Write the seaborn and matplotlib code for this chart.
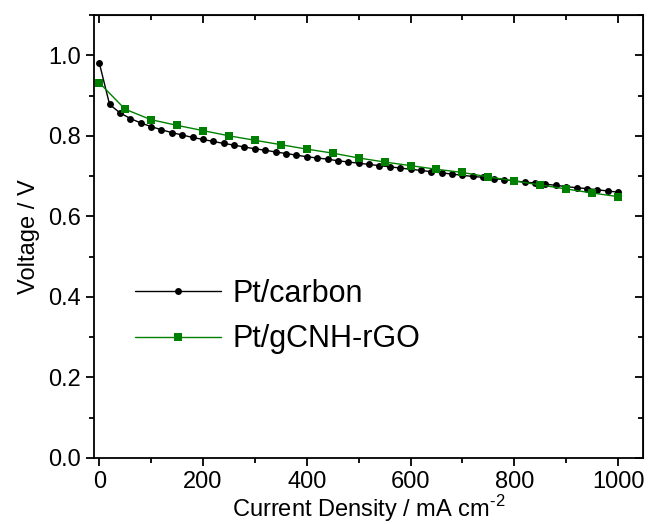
import numpy as np
import pandas as pd
import matplotlib
matplotlib.use('Agg')
import matplotlib.pyplot as plt
import seaborn as sns
from matplotlib.ticker import MultipleLocator

# ── data ─────────────────────────────────────────────────
carbon_j = [0, 20, 40, 60, 80, 100, 120, 140, 160, 180, 200, 220, 240, 260, 280,
            300, 320, 340, 360, 380, 400, 420, 440, 460, 480, 500, 520, 540, 560,
            580, 600, 620, 640, 660, 680, 700, 720, 740, 760, 780, 800, 820, 840,
            860, 880, 900, 920, 940, 960, 980, 1000]
carbon_v = [0.982, 0.878, 0.857, 0.843, 0.832, 0.823, 0.815, 0.808, 0.802, 0.796,
            0.791, 0.786, 0.781, 0.777, 0.772, 0.768, 0.764, 0.760, 0.756, 0.752,
            0.748, 0.745, 0.742, 0.738, 0.735, 0.732, 0.729, 0.726, 0.723, 0.720,
            0.717, 0.714, 0.711, 0.708, 0.705, 0.702, 0.699, 0.697, 0.694, 0.691,
            0.688, 0.685, 0.683, 0.680, 0.677, 0.674, 0.671, 0.669, 0.666, 0.663,
            0.660]

gcnh_j = [0, 50, 100, 150, 200, 250, 300, 350, 400, 450, 500, 550, 600, 650, 700,
          750, 800, 850, 900, 950, 1000]
gcnh_v = [0.932, 0.866, 0.840, 0.826, 0.813, 0.800, 0.789, 0.778, 0.767, 0.757,
          0.745, 0.735, 0.726, 0.717, 0.709, 0.698, 0.688, 0.678, 0.668, 0.658,
          0.649]

labels = ['Pt/carbon', 'Pt/gCNH-rGO']

df_c = pd.DataFrame({'j': carbon_j, 'v': carbon_v})
df_g = pd.DataFrame({'j': gcnh_j, 'v': gcnh_v})

# ── style ────────────────────────────────────────────────
sns.set_style('ticks')
plt.rcParams['font.family'] = ['Liberation Sans', 'DejaVu Sans']
plt.rcParams['mathtext.fontset'] = 'custom'
plt.rcParams['mathtext.rm'] = 'Liberation Sans'
for k in ['text.color', 'axes.labelcolor', 'xtick.color', 'ytick.color']:
    plt.rcParams[k] = 'black'

fig = plt.figure(figsize=(6.48, 5.24), dpi=100)
ax = fig.add_axes([94 / 648, 1 - 458 / 524, 549 / 648, 443 / 524])

sns.lineplot(data=df_c, x='j', y='v', ax=ax, color='black', lw=1.0,
             marker='o', markersize=5, markeredgewidth=0, label=labels[0])
sns.lineplot(data=df_g, x='j', y='v', ax=ax, color='#008000', lw=1.0,
             marker='s', markersize=5.8, markeredgewidth=0, label=labels[1])

ax.set_xlim(-10, 1048)
ax.set_ylim(0, 1.1)
ax.xaxis.set_major_locator(MultipleLocator(200))
ax.xaxis.set_minor_locator(MultipleLocator(100))
ax.yaxis.set_major_locator(MultipleLocator(0.2))
ax.yaxis.set_minor_locator(MultipleLocator(0.1))
ax.yaxis.set_major_formatter(matplotlib.ticker.FormatStrFormatter('%.1f'))

for s in ax.spines.values():
    s.set_linewidth(1.3)
    s.set_color('black')
ax.tick_params(which='major', direction='out', length=6, width=1.3,
               labelsize=17, colors='black')
ax.tick_params(which='minor', direction='out', length=3.5, width=1.3, colors='black')

# top / right ticks pointing inward, no labels
top = ax.secondary_xaxis('top')
top.xaxis.set_major_locator(MultipleLocator(200))
top.xaxis.set_minor_locator(MultipleLocator(100))
top.tick_params(which='major', direction='in', length=6, width=1.3, labeltop=False)
top.tick_params(which='minor', direction='in', length=3.5, width=1.3)
right = ax.secondary_yaxis('right')
right.yaxis.set_major_locator(MultipleLocator(0.2))
right.yaxis.set_minor_locator(MultipleLocator(0.1))
right.tick_params(which='major', direction='in', length=6, width=1.3, labelright=False)
right.tick_params(which='minor', direction='in', length=3.5, width=1.3)

ax.set_xlabel('Current Density / mA cm$^{\\text{-2}}$', fontsize=17, labelpad=0)
ax.set_ylabel('Voltage / V', fontsize=17, labelpad=6)

ax.legend(loc='upper left', bbox_to_anchor=(135 / 648, 1 - 279 / 524),
          bbox_transform=fig.transFigure, frameon=False, fontsize=22,
          handlelength=2.8, handletextpad=0.4, labelspacing=0.5,
          borderpad=0, borderaxespad=0)

fig.savefig('out.png', dpi=100)
